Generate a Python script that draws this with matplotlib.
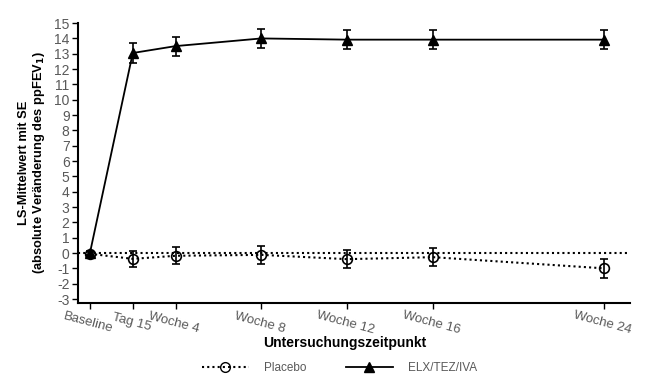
import matplotlib
matplotlib.use("Agg")
import matplotlib.pyplot as plt
from matplotlib.lines import Line2D

plt.rcParams['font.family'] = ['Liberation Sans', 'DejaVu Sans']

# Data
weeks = [0, 2, 4, 8, 12, 16, 24]
tick_labels = ["Baseline", "Tag 15", "Woche 4", "Woche 8", "Woche 12", "Woche 16", "Woche 24"]
placebo_mean = [-0.05, -0.38, -0.18, -0.12, -0.4, -0.27, -1.0]
placebo_se = [0.1, 0.5, 0.55, 0.57, 0.6, 0.58, 0.6]
elx_mean = [0.0, 13.05, 13.5, 14.0, 13.92, 13.92, 13.92]
elx_se = [0.1, 0.68, 0.62, 0.6, 0.6, 0.6, 0.6]
yticks = list(range(-3, 16))

fig = plt.figure(figsize=(6.66, 3.85), dpi=100)
ax = fig.add_axes([0.117, 0.213, 0.829, 0.727])

gray = '#595959'
ax.axhline(0, color='black', linestyle=(0, (1, 1.5)), linewidth=1.5, zorder=1)

ax.errorbar(weeks, placebo_mean, yerr=placebo_se, color='black', linestyle=(0, (1, 1.5)),
            linewidth=1.5, marker='o', markersize=7, markerfacecolor='none',
            markeredgecolor='black', markeredgewidth=1.2, capsize=3, elinewidth=1.2,
            capthick=1.2, zorder=3)
ax.errorbar(weeks, elx_mean, yerr=elx_se, color='black', linestyle='-',
            linewidth=1.3, marker='^', markersize=7.5, markerfacecolor='black',
            markeredgecolor='black', capsize=3, elinewidth=1.2, capthick=1.2, zorder=4)

ax.set_xlim(-0.56, 25.2)
ax.set_ylim(-3.26, 15)
ax.set_yticks(yticks)
ax.set_yticklabels([str(v) for v in yticks])
ax.set_xticks(weeks)
ax.set_xticklabels(tick_labels, rotation=-15, ha='center', va='top',
                   rotation_mode='anchor', fontsize=9.5)

for s in ['top', 'right']:
    ax.spines[s].set_visible(False)
for s in ['left', 'bottom']:
    ax.spines[s].set_linewidth(1.5)
ax.tick_params(axis='both', direction='out', length=4, width=1, colors='black',
               labelcolor=gray)
ax.tick_params(axis='y', labelsize=10, pad=2)
ax.tick_params(axis='x', pad=6)

fig.text(0.517, 0.109, "Untersuchungszeitpunkt", fontsize=10, fontweight='bold',
         ha='center', va='center')
ax.set_ylabel("LS-Mittelwert mit SE\n(absolute Veränderung des ppFEV$_\\mathbf{1}$)",
              fontsize=9.3, fontweight='bold', labelpad=5, linespacing=1.1)

handles = [
    Line2D([], [], color='black', linestyle=(0, (1, 1.5)), linewidth=1.5, marker='o',
           markersize=7, markerfacecolor='none', markeredgecolor='black'),
    Line2D([], [], color='black', linestyle='-', linewidth=1.3, marker='^',
           markersize=7.5, markerfacecolor='black'),
]
leg = fig.legend(handles, ["Placebo", "ELX/TEZ/IVA"], loc='center', ncol=2,
                 bbox_to_anchor=(0.51, 0.045), frameon=False, fontsize=8.5,
                 handlelength=4.0, columnspacing=3.3, handletextpad=1.3)
for t in leg.get_texts():
    t.set_color(gray)

fig.savefig("out.png", dpi=100)
